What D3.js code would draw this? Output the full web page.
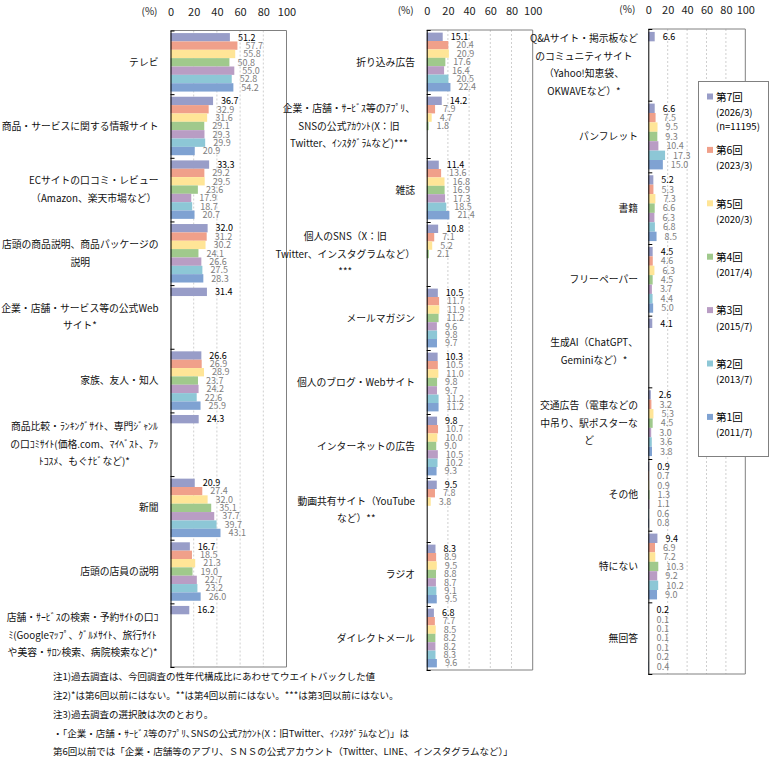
<!DOCTYPE html>
<html>
<head>
<meta charset="utf-8">
<script src="https://cdn.jsdelivr.net/npm/d3@7"></script>
<style>
body { margin: 0; background: #fff; }
text { font-family: "Noto Sans CJK JP", sans-serif; }
</style>
</head>
<body>
<svg id="chart" width="776" height="764"></svg>
<script>
const seriesNames = ['第7回', '第6回', '第5回', '第4回', '第3回', '第2回', '第1回']
const seriesDates = [['(2026/3)', '(n=11195)'], ['(2023/3)'], ['(2020/3)'], ['(2017/4)'], ['(2015/7)'], ['(2013/7)'], ['(2011/7)']]
const seriesColors = ['#989DC8', '#F0A08A', '#FFE597', '#A0C98C', '#B99DC4', '#8DC7D6', '#7FA2D2']
const xTicks = [0, 20, 40, 60, 80, 100]

// panel 1
const leftCategories = [
    'テレビ',
    '商品・サービスに関する情報サイト',
    'ECサイトの口コミ・レビュー\n（Amazon、楽天市場など）',
    '店頭の商品説明、商品パッケージの\n説明',
    '企業・店舗・サービス等の公式Web\nサイト*',
    '家族、友人・知人',
    '商品比較・ﾗﾝｷﾝｸﾞｻｲﾄ、専門ｼﾞｬﾝﾙ\nの口ｺﾐｻｲﾄ(価格.com、ﾏｲﾍﾞｽﾄ、ｱｯ\nﾄｺｽﾒ、もぐﾅﾋﾞなど)*',
    '新聞',
    '店頭の店員の説明',
    '店舗・ｻｰﾋﾞｽの検索・予約ｻｲﾄの口ｺ\nﾐ(Googleﾏｯﾌﾟ、ｸﾞﾙﾒｻｲﾄ、旅行ｻｲﾄ\nや美容・ｻﾛﾝ検索、病院検索など)*'
]
const leftValues = [
    [51.2, 57.7, 55.8, 50.8, 55.0, 52.8, 54.2],
    [36.7, 32.9, 31.6, 29.1, 29.3, 29.9, 20.9],
    [33.3, 29.2, 29.5, 23.6, 17.9, 18.7, 20.7],
    [32.0, 31.2, 30.2, 24.1, 26.6, 27.5, 28.3],
    [31.4],
    [26.6, 26.9, 28.9, 23.7, 24.2, 22.6, 25.9],
    [24.3],
    [20.9, 27.4, 32.0, 35.1, 37.7, 39.7, 43.1],
    [16.7, 18.5, 21.3, 19.0, 22.7, 23.2, 26.0],
    [16.2]
]

// panel 2
const middleCategories = [
    '折り込み広告',
    '企業・店舗・ｻｰﾋﾞｽ等のｱﾌﾟﾘ、\nSNSの公式ｱｶｳﾝﾄ(X：旧\nTwitter、ｲﾝｽﾀｸﾞﾗﾑなど)***',
    '雑誌',
    '個人のSNS（X：旧\nTwitter、インスタグラムなど）\n***',
    'メールマガジン',
    '個人のブログ・Webサイト',
    'インターネットの広告',
    '動画共有サイト（YouTube\nなど）**',
    'ラジオ',
    'ダイレクトメール'
]
const middleValues = [
    [15.1, 20.4, 20.9, 17.6, 16.4, 20.5, 22.4],
    [14.2, 7.9, 4.7, 1.8],
    [11.4, 13.6, 16.8, 16.9, 17.3, 18.5, 21.4],
    [10.8, 7.1, 5.2, 2.1],
    [10.5, 11.7, 11.9, 11.2, 9.6, 9.8, 9.7],
    [10.3, 10.5, 11.0, 9.8, 9.7, 11.2, 11.2],
    [9.8, 10.7, 10.0, 9.0, 10.5, 10.2, 9.3],
    [9.5, 7.8, 3.8],
    [8.3, 8.9, 9.5, 8.8, 8.7, 9.1, 9.5],
    [6.8, 7.7, 8.5, 8.2, 8.2, 8.3, 9.6]
]

// panel 3
const rightCategories = [
    'Q&Aサイト・掲示板など\nのコミュニティサイト\n（Yahoo!知恵袋、\nOKWAVEなど）*',
    'パンフレット',
    '書籍',
    'フリーペーパー',
    '生成AI（ChatGPT、\nGeminiなど）*',
    '交通広告（電車などの\n中吊り、駅ポスターな\nど',
    'その他',
    '特にない',
    '無回答'
]
const rightValues = [
    [6.6],
    [6.6, 7.5, 9.5, 9.3, 10.4, 17.3, 15.0],
    [5.2, 5.3, 7.3, 6.6, 6.3, 6.8, 8.5],
    [4.5, 4.6, 6.3, 4.5, 3.7, 4.4, 5.0],
    [4.1],
    [2.6, 3.2, 5.3, 4.5, 3.0, 3.6, 3.8],
    [0.9, 0.7, 0.9, 1.3, 1.1, 0.6, 0.8],
    [9.4, 6.9, 7.2, 10.3, 9.2, 10.2, 9.0],
    [0.2, 0.1, 0.1, 0.1, 0.1, 0.2, 0.4]
]

const notes = [
    '注1)過去調査は、今回調査の性年代構成比にあわせてウエイトバックした値',
    '注2)*は第6回以前にはない。**は第4回以前にはない。***は第3回以前にはない。',
    '注3)過去調査の選択肢は次のとおり。',
    '・「企業・店舗・ｻｰﾋﾞｽ等のｱﾌﾟﾘ､SNSの公式ｱｶｳﾝﾄ(X：旧Twitter、ｲﾝｽﾀｸﾞﾗﾑなど)」は',
    '第6回以前では「企業・店舗等のアプリ、ＳＮＳの公式アカウント（Twitter、LINE、インスタグラムなど）」'
]

const svg = d3.select('#chart')

function drawPanel(categories, values, box) {
    const g = svg.append('g')
    const x = d3.scaleLinear().domain([0, 100]).range([box.left, box.right])
    const y = d3.scaleBand().domain(d3.range(categories.length)).range([box.top, box.bottom])
    const ySeries = d3.scaleBand()
        .domain(d3.range(seriesNames.length))
        .range([0, y.bandwidth()])
        .paddingOuter(0.31)

    // dashed grid
    g.selectAll('.grid')
        .data([20, 40, 60, 80])
        .enter().append('line')
        .attr('class', 'grid')
        .attr('x1', d => x(d)).attr('x2', d => x(d))
        .attr('y1', box.top).attr('y2', box.bottom)
        .attr('stroke', '#cfcfcf')
        .attr('stroke-dasharray', '2,2')

    g.append('path')
        .attr('d', `M${box.left},${box.top}H${box.right}V${box.bottom}H${box.left}`)
        .attr('fill', 'none')
        .attr('stroke', '#808080')

    const cells = values.flatMap((row, i) => row.map((v, j) => ({ i, j, v })))

    g.selectAll('.bar')
        .data(cells)
        .enter().append('rect')
        .attr('class', 'bar')
        .attr('x', x(0))
        .attr('y', d => y(d.i) + ySeries(d.j))
        .attr('width', d => x(d.v) - x(0))
        .attr('height', ySeries.bandwidth())
        .attr('fill', d => seriesColors[d.j])

    g.selectAll('.val')
        .data(cells)
        .enter().append('text')
        .attr('class', 'val')
        .attr('x', d => x(d.v) + 8)
        .attr('y', d => y(d.i) + ySeries(d.j) + ySeries.bandwidth() / 2)
        .attr('dy', '0.36em')
        .attr('font-size', '9px')
        .attr('fill', d => d.j == 0 ? '#000' : '#808080')
        .text(d => d.v.toFixed(1))

    // left axis, ticks at category boundaries
    const yEdges = d3.scaleLinear().domain([0, categories.length]).range([box.top, box.bottom])
    g.append('g')
        .attr('transform', `translate(${box.left},0)`)
        .call(d3.axisRight(yEdges).ticks(categories.length).tickSize(4).tickSizeOuter(0).tickFormat(''))
        .call(a => a.selectAll('path, line').attr('stroke', '#000'))

    // top tick labels
    g.append('g')
        .attr('transform', `translate(0,${box.top - 12})`)
        .call(d3.axisTop(x).tickValues(xTicks).tickSize(0))
        .call(a => a.select('.domain').remove())
        .call(a => a.selectAll('text').attr('font-size', '11px').attr('fill', '#222')
            .attr('font-family', '"Noto Sans CJK JP", sans-serif'))

    g.append('text')
        .attr('x', box.left - 13)
        .attr('y', box.top - 16)
        .attr('text-anchor', 'end')
        .attr('font-size', '10px')
        .attr('fill', '#222')
        .text('(%)')

    // category labels
    categories.forEach((c, i) => {
        const lines = c.split('\n')
        const lab = g.append('g')
        lab.selectAll('text')
            .data(lines)
            .enter().append('text')
            .attr('text-anchor', 'middle')
            .attr('y', (d, k) => (k - (lines.length - 1) / 2) * 17.5)
            .attr('dy', '0.36em')
            .attr('font-size', '9.8px')
            .attr('fill', '#111')
            .text(d => d)
        let w = 0
        lab.selectAll('text').each(function () { w = Math.max(w, this.getComputedTextLength()) })
        lab.attr('transform', `translate(${box.labelRight - w / 2},${y(i) + y.bandwidth() / 2})`)
    })
}

drawPanel(leftCategories, leftValues, { left: 170.5, right: 286.5, top: 30.5, bottom: 667, labelRight: 158.5 })
drawPanel(middleCategories, middleValues, { left: 426.7, right: 532.7, top: 30, bottom: 670, labelRight: 415 })
drawPanel(rightCategories, rightValues, { left: 648.3, right: 745.3, top: 29, bottom: 674, labelRight: 638 })

// legend
const legend = svg.append('g')
legend.append('rect')
    .attr('x', 698.5).attr('y', 81.5)
    .attr('width', 70).attr('height', 375)
    .attr('fill', '#fff').attr('stroke', '#808080')

const legendItem = legend.selectAll('.item')
    .data(seriesNames)
    .enter().append('g')
    .attr('class', 'item')
    .attr('transform', (d, j) => `translate(707,${97 + j * 53.4})`)
legendItem.append('rect')
    .attr('x', 0).attr('y', -3.5)
    .attr('width', 6).attr('height', 6)
    .attr('fill', (d, j) => seriesColors[j])
legendItem.append('text')
    .attr('x', 9).attr('dy', '0.36em')
    .attr('font-size', '10.5px')
    .text(d => d)
legendItem.each(function (d, j) {
    d3.select(this).selectAll('.date')
        .data(seriesDates[j])
        .enter().append('text')
        .attr('class', 'date')
        .attr('x', 9)
        .attr('y', (t, k) => 15.5 + k * 14)
        .attr('dy', '0.36em')
        .attr('font-size', '9.5px')
        .text(t => t)
})

// notes
svg.selectAll('.note')
    .data(notes)
    .enter().append('text')
    .attr('class', 'note')
    .attr('x', 53)
    .attr('y', (d, k) => 677 + k * 18.7)
    .attr('dy', '0.36em')
    .attr('font-size', '9.5px')
    .attr('fill', '#111')
    .text(d => d)
</script>
</body>
</html>
